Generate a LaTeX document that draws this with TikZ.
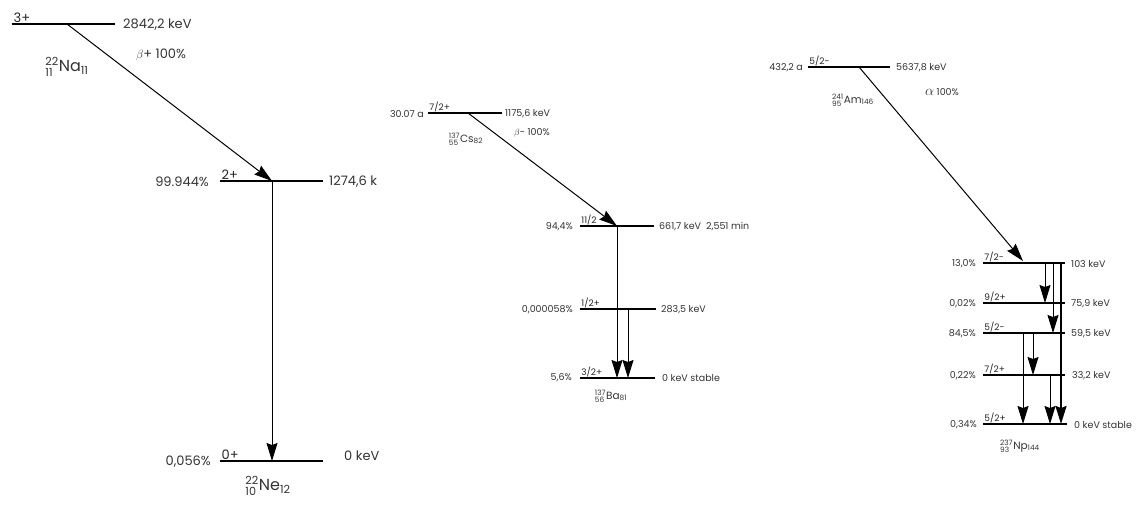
\documentclass[tikz,border=0pt]{standalone}
\usepackage{amsmath}
\usepackage{fontspec}
\setmainfont{Poppins}
\usetikzlibrary{arrows.meta}

\newcommand{\nuclide}[4]{$^{\text{#1}}_{\text{#2}}$#3$_{\text{#4}}$}

\begin{document}
\begin{tikzpicture}[
      x=1pt, y=-1pt,
      txtbig/.style={font=\fontsize{13}{15}\selectfont, text=black!80, inner sep=1pt},
      txtsm/.style={font=\fontsize{9.5}{11}\selectfont, text=black!80, inner sep=1pt},
      spbig/.style={font=\fontsize{13}{15}\selectfont, text=black!85, inner sep=1.5pt, anchor=south west},
      spsm/.style={font=\fontsize{9}{10}\selectfont, text=black!85, inner sep=1.2pt, anchor=south west},
      nucbig/.style={font=\fontsize{16}{18}\selectfont, text=black!80, inner sep=0pt},
      nucsm/.style={font=\fontsize{10.5}{12}\selectfont, text=black!80, inner sep=0pt},
      lvlbig/.style={line width=2.3pt},
      lvlsm/.style={line width=1.3pt},
      tr/.style={-{Stealth[length=18pt, width=11pt, inset=2pt]}, line width=1pt},
      trbig/.style={tr, line width=2pt}
    ]
    \useasboundingbox (0,0) rectangle (1142,504);

    % 22Na -> 22Ne
    \coordinate (na3l) at (12,24);   \coordinate (na3r) at (115,24);
    \coordinate (na2l) at (220,181); \coordinate (na2r) at (323,181);
    \coordinate (na0l) at (220,461); \coordinate (na0r) at (323,461);
    \draw[lvlbig] (na3l) -- (na3r);
    \draw[lvlbig] (na2l) -- (na2r);
    \draw[lvlbig] (na0l) -- (na0r);
    \coordinate (na3t) at (67,24);
    \coordinate (na2t) at (272,181);
    \draw[tr] (na3t) -- (na2t);
    \draw[tr] (na2t) -- (na2t |- na0l);

    \node[spbig] (na3s) at (na3l) {3+};
    \node[txtbig, anchor=west] (na3e) at (122,25) {2842,2 keV};
    \node[txtbig] (nab) at (161,55) {$\beta$+ 100\%};
    \node[nucbig] (naname) at (67,67) {\nuclide{22}{11}{Na}{11}};
    \node[spbig] (na2s) at (na2l) {2+};
    \node[txtbig, anchor=east] (na2p) at (210,182) {99.944\%};
    \node[txtbig, anchor=west] (na2e) at (328,182) {1274,6 k};
    \node[spbig] (na0s) at (na0l) {0+};
    \node[txtbig, anchor=east] (na0p) at (212,462) {0,056\%};
    \node[txtbig, anchor=west] (na0e) at (343,456) {0 keV};
    \node[nucbig] (nename) at (268,486) {\nuclide{22}{10}{Ne}{12}};

    % 137Cs -> 137Ba
    \coordinate (cs7l) at (428,113);  \coordinate (cs7r) at (502,113);
    \coordinate (ba11l) at (580,226); \coordinate (ba11r) at (654,226);
    \coordinate (ba1l) at (580,309);  \coordinate (ba1r) at (656,309);
    \coordinate (ba3l) at (580,378);  \coordinate (ba3r) at (655,378);
    \draw[lvlsm] (cs7l) -- (cs7r);
    \draw[lvlsm] (ba11l) -- (ba11r);
    \draw[lvlsm] (ba1l) -- (ba1r);
    \draw[lvlsm] (ba3l) -- (ba3r);
    \coordinate (cs7t) at (468,113);
    \coordinate (ba11t) at (617,226);
    \coordinate (ba1t) at (628,309);
    \draw[tr] (cs7t) -- (ba11t);
    \draw[tr] (ba11t) -- (ba11t |- ba3l);
    \draw[tr] (ba1t) -- (ba1t |- ba3l);

    \node[spsm] (cs7s) at (cs7l) {7/2+};
    \node[txtsm, anchor=east] (cs7p) at (425,114) {30.07 a};
    \node[txtsm, anchor=west] (cs7e) at (504,114) {1175,6 keV};
    \node[txtsm] (csb) at (532,133) {$\beta$- 100\%};
    \node[nucsm] (csname) at (466,139) {\nuclide{137}{55}{Cs}{82}};
    \node[spsm] (ba11s) at (ba11l) {11/2};
    \node[txtsm, anchor=east] (ba11p) at (574,227) {94,4\%};
    \node[txtsm, anchor=west] (ba11e) at (658,227) {661,7 keV\ \ 2,551 min};
    \node[spsm] (ba1s) at (ba1l) {1/2+};
    \node[txtsm, anchor=east] (ba1p) at (574,310) {0,000058\%};
    \node[txtsm, anchor=west] (ba1e) at (660,310) {283,5 keV};
    \node[spsm] (ba3s) at (ba3l) {3/2+};
    \node[txtsm, anchor=east] (ba3p) at (573,378) {5,6\%};
    \node[txtsm, anchor=west] (ba3e) at (661,378) {0 keV stable};
    \node[nucsm] (baname) at (611,396) {\nuclide{137}{56}{Ba}{81}};

    % 241Am -> 237Np
    \coordinate (am5l) at (808,67);    \coordinate (am5r) at (890,67);
    \coordinate (np103l) at (983,263); \coordinate (np103r) at (1065,263);
    \coordinate (np76l) at (983,303);  \coordinate (np76r) at (1065,303);
    \coordinate (np60l) at (983,333);  \coordinate (np60r) at (1065,333);
    \coordinate (np33l) at (983,375);  \coordinate (np33r) at (1065,375);
    \coordinate (np0l) at (983,424);   \coordinate (np0r) at (1067,424);
    \foreach \lv in {am5, np103, np76, np60, np33, np0}
      \draw[lvlsm] (\lv l) -- (\lv r);
    \coordinate (am5t) at (859,67);
    \coordinate (np103t) at (1023,261);
    \coordinate (np103a) at (1045,263);
    \coordinate (np103b) at (1053,263);
    \coordinate (np103c) at (1061,263);
    \coordinate (np60a) at (1023,333);
    \coordinate (np60b) at (1033,333);
    \coordinate (np33a) at (1050,375);
    \draw[tr] (am5t) -- (np103t);
    \draw[tr] (np103a) -- (np103a |- np76l);
    \draw[tr] (np103b) -- (np103b |- np60l);
    \draw[trbig] (np103c) -- (np103c |- np0l);
    \draw[tr] (np60a) -- (np60a |- np0l);
    \draw[tr] (np60b) -- (np60b |- np33l);
    \draw[tr] (np33a) -- (np33a |- np0l);

    \node[spsm] (am5s) at (am5l) {5/2-};
    \node[txtsm, anchor=east] (am5p) at (804,68) {432,2 a};
    \node[txtsm, anchor=west] (am5e) at (895,68) {5637,8 keV};
    \node[txtsm] (ama) at (942,92) {{\fontsize{14}{16}\selectfont$\alpha$}\ 100\%};
    \node[nucsm] (amname) at (853,100) {\nuclide{241}{95}{Am}{146}};
    \node[spsm] (np103s) at (np103l) {7/2-};
    \node[txtsm, anchor=east] (np103p) at (977,264) {13,0\%};
    \node[txtsm, anchor=west] (np103e) at (1070,264) {103 keV};
    \node[spsm] (np76s) at (np76l) {9/2+};
    \node[txtsm, anchor=east] (np76p) at (977,304) {0,02\%};
    \node[txtsm, anchor=west] (np76e) at (1070,304) {75,9 keV};
    \node[spsm] (np60s) at (np60l) {5/2-};
    \node[txtsm, anchor=east] (np60p) at (977,334) {84,5\%};
    \node[txtsm, anchor=west] (np60e) at (1070,334) {59,5 keV};
    \node[spsm] (np33s) at (np33l) {7/2+};
    \node[txtsm, anchor=east] (np33p) at (977,376) {0,22\%};
    \node[txtsm, anchor=west] (np33e) at (1071,376) {33,2 keV};
    \node[spsm] (np0s) at (np0l) {5/2+};
    \node[txtsm, anchor=east] (np0p) at (978,425) {0,34\%};
    \node[txtsm, anchor=west] (np0e) at (1073,425) {0 keV stable};
    \node[nucsm] (npname) at (1020,446) {\nuclide{237}{93}{Np}{144}};
  \end{tikzpicture}
\end{document}
